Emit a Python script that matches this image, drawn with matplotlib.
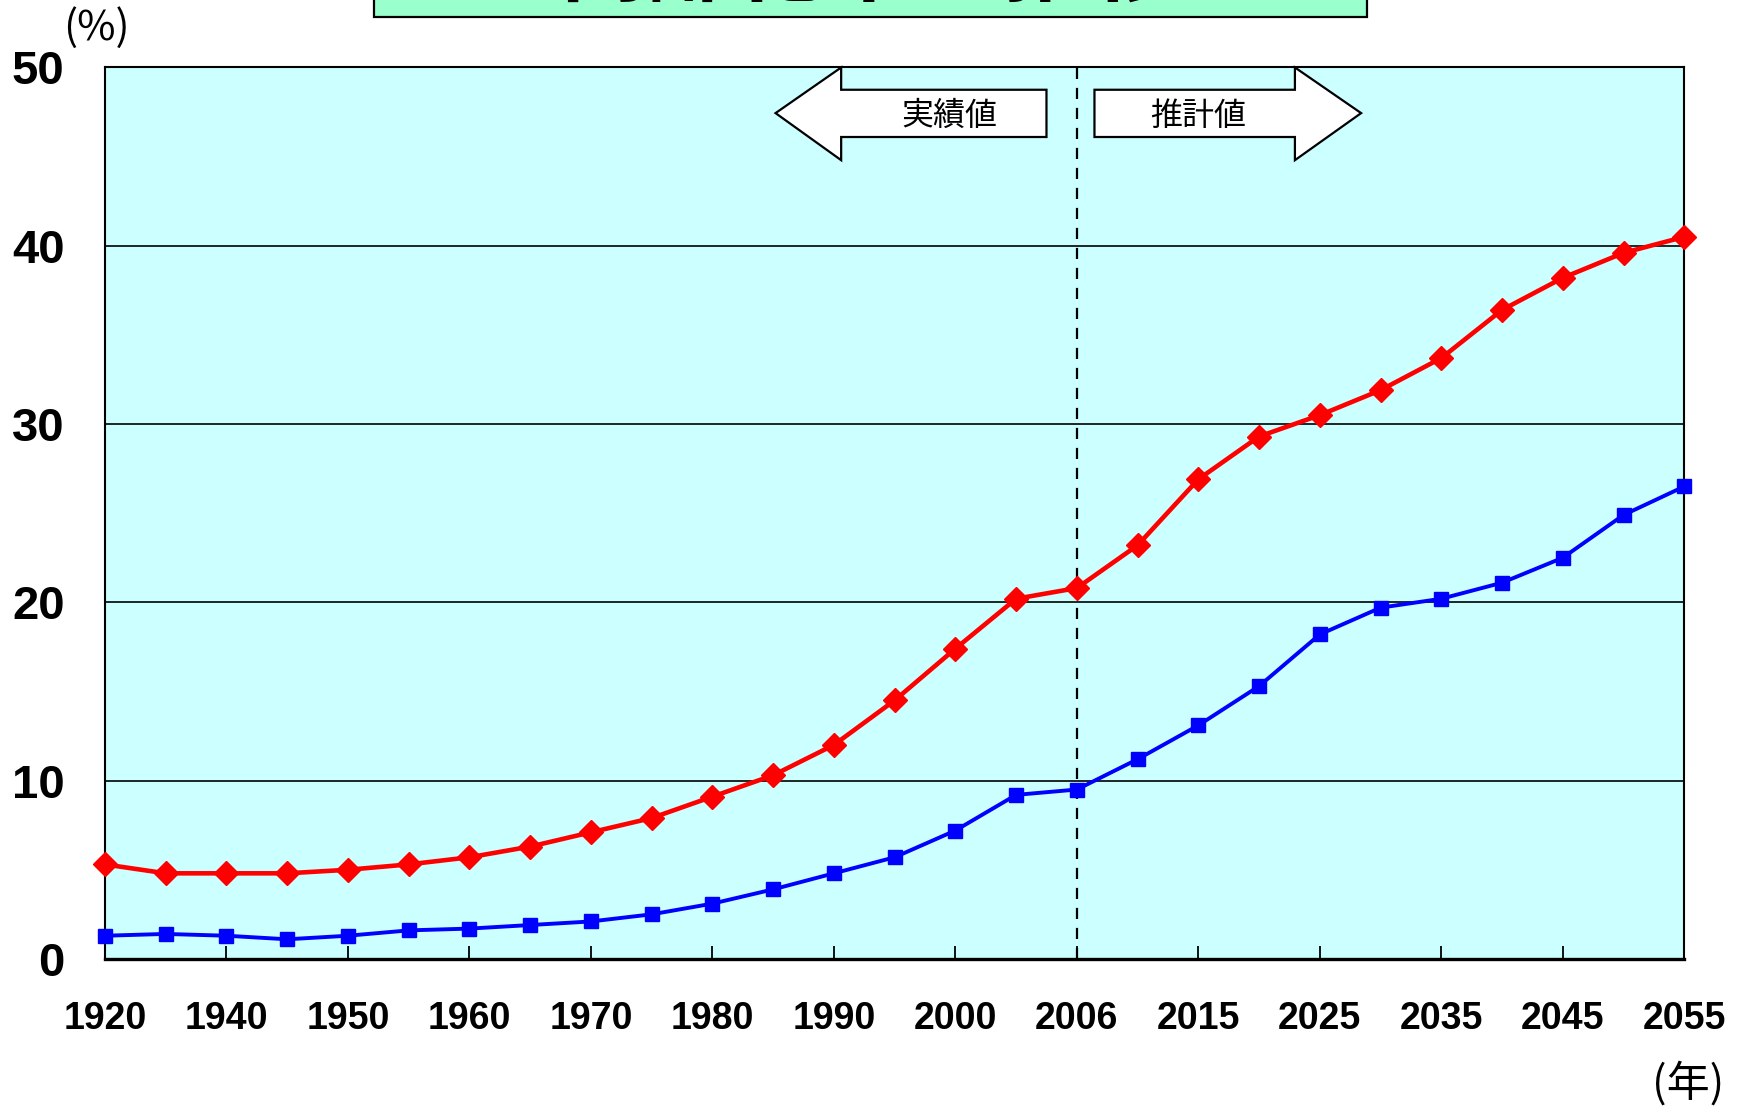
import matplotlib.pyplot as plt
from matplotlib.patches import Polygon, Rectangle

# 高齢化率の推移（65歳以上・75歳以上）
years = [1920, 1930, 1940, 1945, 1950, 1955, 1960, 1965, 1970, 1975,
         1980, 1985, 1990, 1995, 2000, 2005, 2006, 2010, 2015, 2020,
         2025, 2030, 2035, 2040, 2045, 2050, 2055]
rate_65 = [5.3, 4.8, 4.8, 4.8, 5.0, 5.3, 5.7, 6.3, 7.1, 7.9,
           9.1, 10.3, 12.0, 14.5, 17.4, 20.2, 20.8, 23.2, 26.9, 29.3,
           30.5, 31.9, 33.7, 36.4, 38.2, 39.6, 40.5]
rate_75 = [1.3, 1.4, 1.3, 1.1, 1.3, 1.6, 1.7, 1.9, 2.1, 2.5,
           3.1, 3.9, 4.8, 5.7, 7.2, 9.2, 9.5, 11.2, 13.1, 15.3,
           18.2, 19.7, 20.2, 21.1, 22.5, 24.9, 26.5]
split_year = 2006
title = '高齢化率の推移'

plt.rcParams['font.family'] = ['Liberation Sans', 'Noto Sans CJK JP', 'DejaVu Sans']

fig = plt.figure(figsize=(17.49, 11.06), dpi=100)
ax = fig.add_axes([0.060, 0.133, 0.903, 0.806])
ax.set_facecolor('#CCFFFF')

x = list(range(len(years)))
ax.plot(x, rate_65, color='#FF0000', lw=3.3, marker='D', ms=12,
        clip_on=False, zorder=5)
ax.plot(x, rate_75, color='#0000FF', lw=2.8, marker='s', ms=9.5,
        clip_on=False, zorder=5)

ax.set_xlim(0, len(years) - 1)
ax.set_ylim(0, 50)
ax.set_yticks(range(0, 51, 10))
ax.yaxis.grid(True, color='black', lw=1.2)
ax.set_axisbelow(True)

ax.set_xticks(x[::2])
ax.set_xticklabels([str(y) for y in years[::2]],
                   fontweight='bold', fontsize=27)
ax.set_yticklabels([str(v) for v in range(0, 51, 10)],
                   fontweight='bold', fontsize=34)
ax.tick_params(axis='x', direction='in', length=9.5, width=1.3, pad=30)
ax.tick_params(axis='y', length=0, pad=29)

for side in ['left', 'right', 'top']:
    ax.spines[side].set_linewidth(1.5)
ax.spines['bottom'].set_linewidth(2.4)

# 実績値／推計値の境界
xs = years.index(split_year)
ax.axvline(xs, color='black', lw=1.6, ls=(0, (5, 4)), zorder=4)

# 左向き・右向きの矢印
left_arrow = [(xs - 0.5, 48.75), (xs - 0.5, 46.1), (xs - 3.88, 46.1),
              (xs - 3.88, 44.8), (xs - 4.96, 47.44), (xs - 3.88, 50.0),
              (xs - 3.88, 48.75)]
right_arrow = [(xs + 0.29, 48.75), (xs + 0.29, 46.1), (xs + 3.59, 46.1),
               (xs + 3.59, 44.8), (xs + 4.68, 47.44), (xs + 3.59, 50.0),
               (xs + 3.59, 48.75)]
for pts in (left_arrow, right_arrow):
    ax.add_patch(Polygon(pts, closed=True, facecolor='white',
                         edgecolor='black', lw=1.6, zorder=6, clip_on=False))
ax.text(xs - 2.1, 47.3, '実績値', fontsize=23, ha='center', va='center',
        family=['Noto Sans CJK JP'], zorder=7)
ax.text(xs + 2.0, 47.3, '推計値', fontsize=23, ha='center', va='center',
        family=['Noto Sans CJK JP'], zorder=7)

fig.text(0.055, 0.975, '(%)', fontsize=30, ha='center', va='center',
         family=['Noto Sans CJK JP'])
fig.text(0.965, 0.020, '(年)', fontsize=31, ha='center', va='center',
         family=['Noto Sans CJK JP'])

# 上部のタイトル枠
fig.add_artist(Rectangle((0.2138, 0.9846), 0.5677, 0.05,
                         transform=fig.transFigure, facecolor='#99FFCC',
                         edgecolor='black', lw=1.6))
fig.text(0.4974, 1 + 5 / 1106, title, fontsize=64, fontweight='bold',
         ha='center', va='baseline', family=['Noto Sans CJK JP'])

fig.savefig('out.png', dpi=100)
